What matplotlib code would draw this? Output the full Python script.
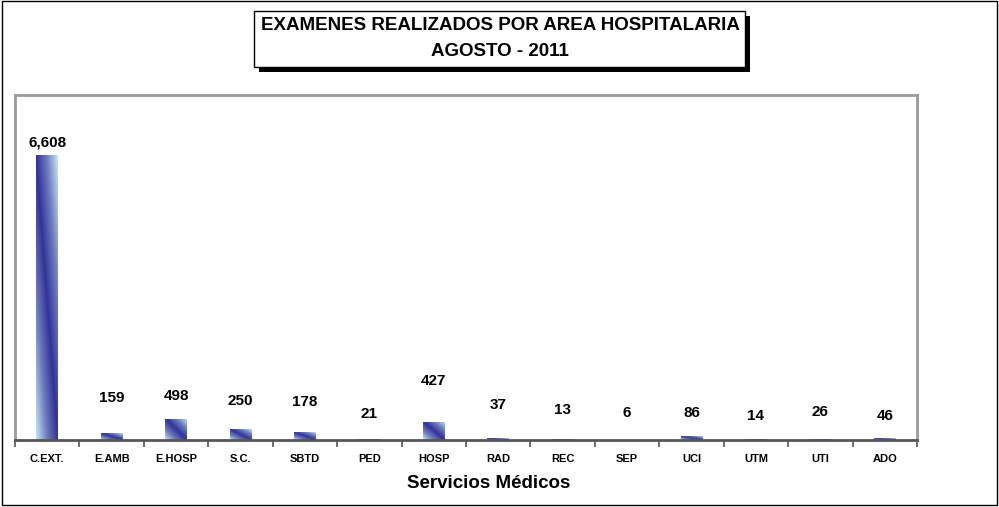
import numpy as np
import matplotlib
matplotlib.use("Agg")
import matplotlib.pyplot as plt
from matplotlib.patches import Rectangle
from matplotlib.colors import LinearSegmentedColormap

categories = ["C.EXT.", "E.AMB", "E.HOSP", "S.C.", "SBTD", "PED", "HOSP",
              "RAD", "REC", "SEP", "UCI", "UTM", "UTI", "ADO"]
values = [6608, 159, 498, 250, 178, 21, 427, 37, 13, 6, 86, 14, 26, 46]
value_labels = ["6,608", "159", "498", "250", "178", "21", "427",
                "37", "13", "6", "86", "14", "26", "46"]
title_lines = ["EXAMENES REALIZADOS POR AREA HOSPITALARIA", "AGOSTO - 2011"]
xlabel = "Servicios Médicos"

# label offsets above bar tops (points) - manual Excel label placement
label_offsets = [9, 25, 16, 20, 22, 18, 29, 24, 21, 19, 17, 17, 19, 16]

plt.rcParams['font.family'] = ['Liberation Sans', 'DejaVu Sans']

W, H = 999, 507
fig = plt.figure(figsize=(W / 100, H / 100), dpi=100)

def fx(px):
    return px / W

def fy(py):
    return 1 - py / H

# outer border
fig.patches.append(Rectangle((fx(1.5), fy(504.5)), fx(997 - 1.5), (504.5 - 1) / H,
                             transform=fig.transFigure, fill=False,
                             edgecolor='black', linewidth=1.0))

ax_left, ax_right, ax_top, ax_bot = 15, 917, 95, 440
ax = fig.add_axes([fx(ax_left), fy(ax_bot), fx(ax_right - ax_left), (ax_bot - ax_top) / H])

x = np.arange(len(categories))
bars = ax.bar(x, values, width=0.34, color='none', edgecolor='none')

ax.set_xlim(-0.5, len(categories) - 0.5)
ax.set_ylim(0, 8000)

cmap = LinearSegmentedColormap.from_list('grad', ['#333399', '#6f7fbf', '#c6e8fa'])
n = 200
u, v = np.meshgrid(np.linspace(0, 1, n), np.linspace(0, 1, n))
grad = np.abs(u - v)
for b in bars:
    x0, y0 = b.get_x(), b.get_y()
    w, h = b.get_width(), b.get_height()
    im = ax.imshow(grad, cmap=cmap, extent=[x0, x0 + w, y0, y0 + h],
                   origin='upper', aspect='auto', interpolation='bilinear',
                   vmin=0, vmax=1, zorder=2)
    im.set_clip_path(b)

for xi, val, lab, off in zip(x, values, value_labels, label_offsets):
    ax.annotate(lab, (xi, val), xytext=(0, off), textcoords='offset points',
                ha='center', va='center', fontsize=11, fontweight='bold',
                color='black', zorder=3)

for s in ['left', 'top', 'right']:
    ax.spines[s].set_color('#9a9a9a')
    ax.spines[s].set_linewidth(2)
ax.spines['bottom'].set_color('#555555')
ax.spines['bottom'].set_linewidth(2)
ax.spines['bottom'].set_zorder(4)

ax.set_yticks([])
ax.set_xticks(x)
ax.set_xticklabels(categories, fontsize=8, fontweight='bold')
ax.tick_params(axis='x', which='major', length=0, pad=10)
ax.set_xticks(np.arange(-0.5, len(categories), 1), minor=True)
ax.tick_params(axis='x', which='minor', length=5, width=1.2, color='#555555', direction='out')

fig.text(fx(489), fy(483), xlabel, ha='center', va='center',
         fontsize=13.5, fontweight='bold')

# title box with shadow
tb_l, tb_r, tb_t, tb_b = 254, 745, 11, 67
fig.patches.append(Rectangle((fx(tb_l + 5), fy(tb_b + 5)), fx(tb_r - tb_l), (tb_b - tb_t) / H,
                             transform=fig.transFigure, facecolor='black',
                             edgecolor='none', zorder=1))
fig.patches.append(Rectangle((fx(tb_l), fy(tb_b)), fx(tb_r - tb_l), (tb_b - tb_t) / H,
                             transform=fig.transFigure, facecolor='white',
                             edgecolor='black', linewidth=1.0, zorder=2))
fig.text(fx(500), fy(26), title_lines[0], ha='center', va='center',
         fontsize=13.5, fontweight='bold', zorder=3)
fig.text(fx(500), fy(52), title_lines[1], ha='center', va='center',
         fontsize=13.5, fontweight='bold', zorder=3)

fig.savefig('out.png', dpi=100)
